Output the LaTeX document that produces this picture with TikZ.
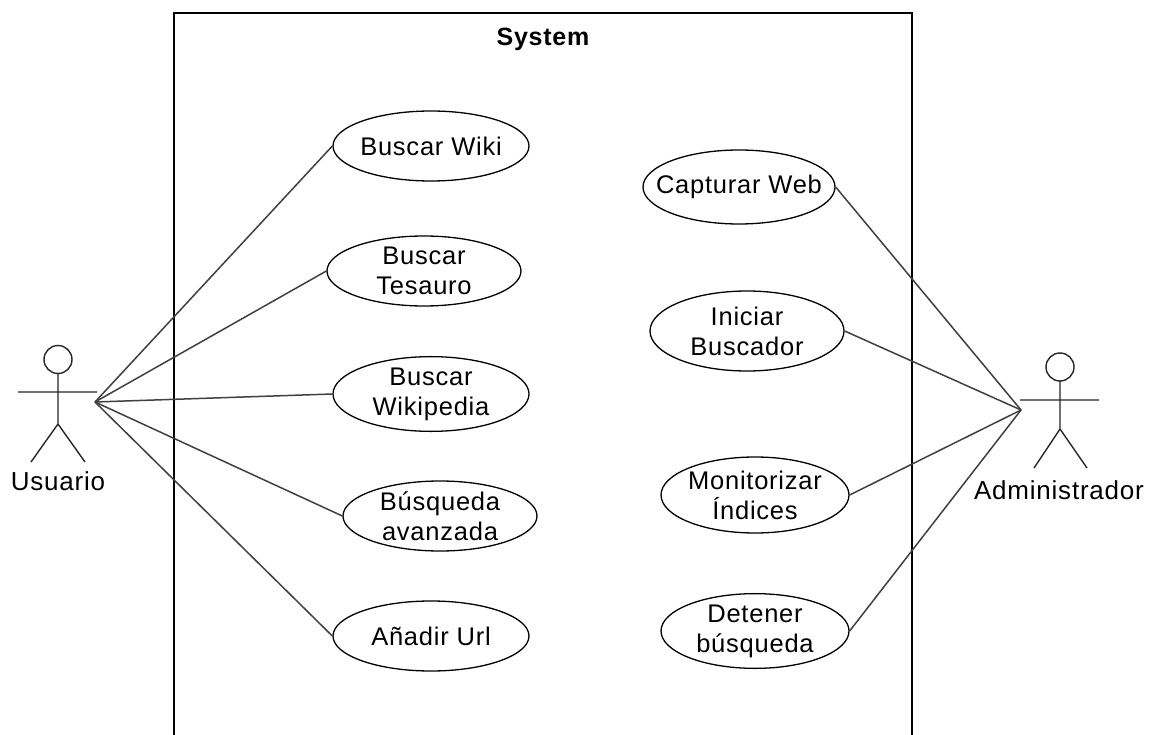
\documentclass[tikz,border=0pt]{standalone}
\usepackage{fontspec}
\setmainfont{Liberation Sans}[LetterSpace=3]
\usetikzlibrary{shapes.geometric}
\tikzset{
 x=1pt,y=-1pt,
 uc/.style={draw=black,fill=white,ellipse,line width=1.3pt,inner xsep=-40pt,inner ysep=0pt,minimum width=#1,font=\fontsize{25.5}{30}\selectfont,align=center},
 uc/.default=190pt,
 link/.style={draw=black!75,line width=1.5pt},
 lbl/.style={font=\fontsize{26}{30}\selectfont,inner sep=0pt},
 figure/.style={draw=black!85,line width=1.4pt}
}
\begin{document}
\begin{tikzpicture}
\useasboundingbox[fill=white] (0,0) rectangle (1151,735);
\draw[draw=black,line width=1.3pt] (174,735) -- (174,13) -- (912,13) -- (912,735);
\node[font=\bfseries\fontsize{25}{30}\selectfont,inner sep=0pt] (sys) at (543,39) {System};
\coordinate (ua) at (95,402);
\coordinate (aa) at (1021,410);
\foreach \n/\x/\y/\w/\h/\t in {
 a/431/146/196/70/Buscar Wiki,
 b/424/271/194/70/{Buscar\\Tesauro},
 c/431/394/196/70/{Buscar\\Wikipedia},
 d/440/516/194/70/{Búsqueda\\avanzada},
 e/431/636/196/70/Añadir Url,
 f/739/187/192/74/Capturar Web,
 g/747/331/194/80/{Iniciar\\Buscador},
 h/755/495/188/76/{Monitorizar\\Índices},
 i/755/631/188/74/{Detener\\búsqueda}}{
 \node[uc=\w pt,minimum height=\h pt] (\n) at (\x,\y) {\t};
}
\foreach \n in {a,b,c,d,e} \draw[link] (ua) -- (\n.west);
\foreach \n in {f,g,h,i} \draw[link] (aa) -- (\n.east);
% actors
\draw[figure] (58,359.5) circle (14);
\draw[figure] (58,373.5) -- (58,424) (18,392) -- (97,392) (31,462) -- (58,424) -- (85,462);
\node[lbl] (uu) at (58,481) {Usuario};
\draw[figure] (1060,367) circle (14);
\draw[figure] (1060,381) -- (1060,429) (1020,400) -- (1099,400) (1034,468) -- (1060,429) -- (1087,468);
\node[lbl] (ad) at (1059,490) {Administrador};
\end{tikzpicture}
\end{document}
